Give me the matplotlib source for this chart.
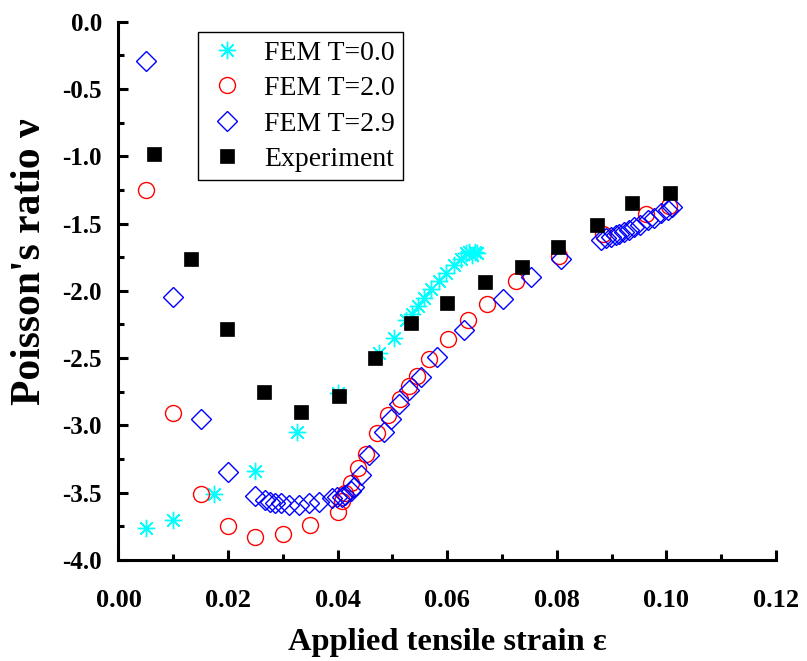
import matplotlib
matplotlib.use("Agg")
import matplotlib.pyplot as plt
from matplotlib.ticker import MultipleLocator, FormatStrFormatter

plt.rcParams['font.family'] = ['Liberation Serif', 'DejaVu Serif']
plt.rcParams['axes.unicode_minus'] = False

# FEM T=0.0 (cyan asterisks)
t0_x = [0.005, 0.010, 0.0175, 0.025, 0.0325, 0.040, 0.0475, 0.0503, 0.0525, 0.0536,
        0.0546, 0.0558, 0.0570, 0.0585, 0.0598, 0.0612, 0.0625, 0.0634, 0.0640, 0.0645,
        0.0650, 0.0655]
t0_y = [-3.76, -3.70, -3.51, -3.34, -3.05, -2.76, -2.46, -2.35, -2.22, -2.17,
        -2.11, -2.05, -1.99, -1.93, -1.87, -1.81, -1.76, -1.72, -1.71, -1.73,
        -1.71, -1.72]

# FEM T=2.0 (red circles)
t2_x = [0.005, 0.010, 0.015, 0.020, 0.025, 0.030, 0.035, 0.0401, 0.0408, 0.0414,
        0.0424, 0.0437, 0.0451, 0.0472, 0.0492, 0.0513, 0.0530, 0.0545, 0.0567, 0.0602,
        0.0637, 0.0673, 0.0725, 0.0804, 0.0884, 0.0963, 0.1005]
t2_y = [-1.25, -2.91, -3.51, -3.75, -3.83, -3.81, -3.74, -3.64, -3.56, -3.50,
        -3.43, -3.32, -3.21, -3.06, -2.92, -2.80, -2.71, -2.63, -2.51, -2.36,
        -2.22, -2.10, -1.93, -1.74, -1.58, -1.43, -1.37]

# FEM T=2.9 (blue diamonds)
t29_x = [0.005, 0.010, 0.015, 0.020, 0.025, 0.0268, 0.0277, 0.0286, 0.0296, 0.0311,
         0.0329, 0.0347, 0.0366, 0.0390, 0.0399, 0.0408, 0.0414, 0.0424, 0.0430, 0.0442,
         0.0457, 0.0484, 0.0497, 0.0512, 0.0530, 0.0552, 0.0582, 0.0631, 0.0701, 0.0753,
         0.0808, 0.0881, 0.0890, 0.0899, 0.0908, 0.0914, 0.0923, 0.0932, 0.0941, 0.0951,
         0.0966, 0.0978, 0.0990, 0.1002, 0.1011]
t29_y = [-0.29, -2.045, -2.95, -3.345, -3.525, -3.555, -3.567, -3.58, -3.58, -3.59,
         -3.59, -3.58, -3.57, -3.54, -3.53, -3.53, -3.52, -3.49, -3.455, -3.37,
         -3.22, -3.05, -2.95, -2.84, -2.74, -2.64, -2.49, -2.29, -2.06, -1.90,
         -1.76, -1.62, -1.61, -1.60, -1.586, -1.574, -1.56, -1.55, -1.525, -1.51,
         -1.475, -1.46, -1.425, -1.40, -1.376]

# Experiment (black squares)
exp_x = [0.0065, 0.0132, 0.0198, 0.0266, 0.0333, 0.0402, 0.0468, 0.0534, 0.0600, 0.0669,
         0.0737, 0.0803, 0.0873, 0.0938, 0.1007]
exp_y = [-0.98, -1.76, -2.28, -2.75, -2.90, -2.78, -2.50, -2.24, -2.09, -1.935,
         -1.826, -1.673, -1.51, -1.35, -1.27]

labels = ['FEM T=0.0', 'FEM T=2.0', 'FEM T=2.9', 'Experiment']

fig = plt.figure(figsize=(8.07, 6.61), dpi=100)
ax = fig.add_axes([0.1468, 0.1528, 0.8148, 0.8144])

ax.plot(t0_x, t0_y, linestyle='none', marker=(8, 2, 0), markersize=12.5,
        markeredgecolor='#00FFFF', markeredgewidth=1.0, label=labels[0])
ax.plot(t2_x, t2_y, linestyle='none', marker='o', markersize=11.5,
        markerfacecolor='none', markeredgecolor='#FF0000', markeredgewidth=1.0, label=labels[1])
ax.plot(t29_x, t29_y, linestyle='none', marker='D', markersize=10,
        markerfacecolor='none', markeredgecolor='#0000FF', markeredgewidth=1.0, label=labels[2])
ax.plot(exp_x, exp_y, linestyle='none', marker='s', markersize=10.5,
        markerfacecolor='black', markeredgecolor='black', markeredgewidth=0.5, label=labels[3])

ax.set_xlim(0, 0.12)
ax.set_ylim(-4.0, 0.0)
ax.xaxis.set_major_locator(MultipleLocator(0.02))
ax.xaxis.set_minor_locator(MultipleLocator(0.01))
ax.yaxis.set_major_locator(MultipleLocator(0.5))
ax.yaxis.set_minor_locator(MultipleLocator(0.25))
ax.xaxis.set_major_formatter(FormatStrFormatter('%.2f'))
ax.yaxis.set_major_formatter(FormatStrFormatter('%.1f'))

for s in ['top', 'right']:
    ax.spines[s].set_visible(False)
for s in ['left', 'bottom']:
    ax.spines[s].set_linewidth(2.2)

ax.tick_params(axis='both', which='major', direction='in', length=7, width=2.2)
ax.tick_params(axis='both', which='minor', direction='in', length=4, width=2.2)
ax.tick_params(axis='x', which='major', pad=21, labelsize=19)
ax.tick_params(axis='y', which='major', pad=12, labelsize=18)
for lab in ax.get_xticklabels() + ax.get_yticklabels():
    lab.set_fontweight('bold')

ax.set_xlabel('Applied tensile strain \u03b5', fontsize=23.4, fontweight='bold', labelpad=11.5)
ax.set_ylabel("Poisson's ratio \u03bd", fontsize=30, fontweight='bold')
ax.yaxis.set_label_coords(-0.106, 0.555)

leg = ax.legend(loc='upper left', bbox_to_anchor=(0.121, 0.981), fontsize=20,
                frameon=True, fancybox=False, framealpha=1, edgecolor='black',
                borderpad=0.3, labelspacing=0.36, handletextpad=0.57, handlelength=1.5,
                borderaxespad=0)
leg.get_frame().set_linewidth(1.0)

fig.savefig('out.png', dpi=100)
